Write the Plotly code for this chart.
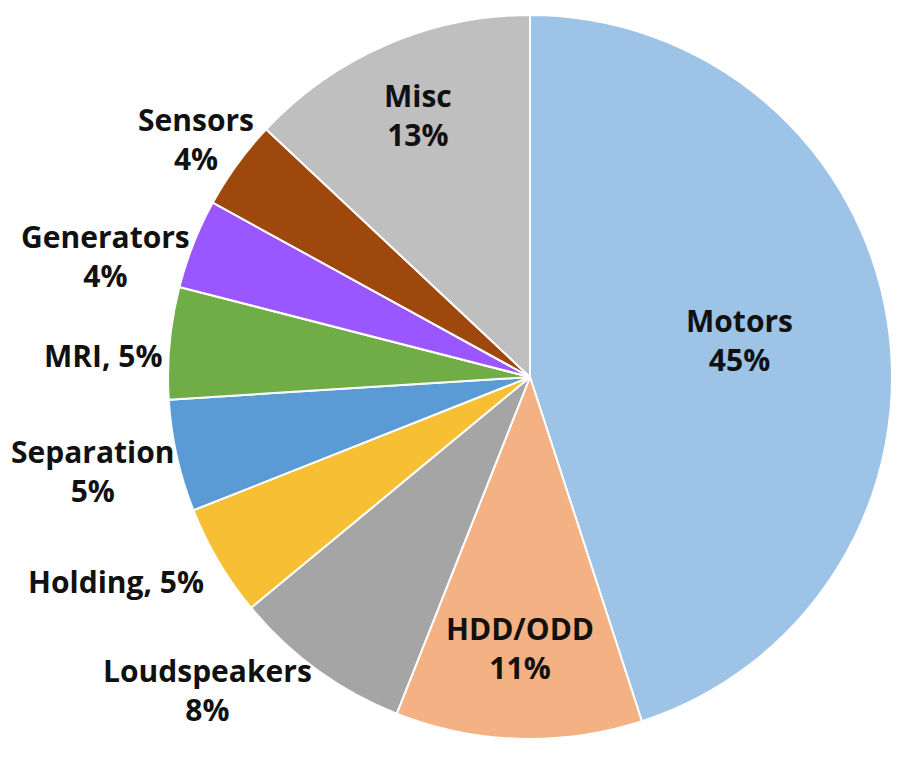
import plotly.graph_objects as go

categories = ["Motors", "HDD/ODD", "Loudspeakers", "Holding", "Separation",
              "MRI", "Generators", "Sensors", "Misc"]
values = [45, 11, 8, 5, 5, 5, 4, 4, 13]
label_texts = ["Motors<br>45%", "HDD/ODD<br>11%", "Loudspeakers<br>8%", "Holding, 5%",
               "Separation<br>5%", "MRI, 5%", "Generators<br>4%", "Sensors<br>4%", "Misc<br>13%"]
colors = ["#9DC3E6", "#F4B183", "#A5A5A5", "#F7C034", "#5B9BD5",
          "#70AD47", "#9B57FF", "#9E480E", "#BFBFBF"]

W, H = 905, 763
OFF = 8  # page body offset
cx, cy, r = 530 - OFF, 377 - OFF, 362

# label centres (page pixels) for the data labels
label_xy = [(739, 340), (520, 648), (207, 690), (116, 581), (93, 471),
            (103, 355), (105, 256), (196, 139), (418, 115)]

font = dict(family="Open Sans", size=30, color="#111111", weight="bold")

fig = go.Figure(go.Pie(
    labels=categories,
    values=values,
    textinfo="none",
    sort=False,
    direction="clockwise",
    rotation=0,
    marker=dict(colors=colors, line=dict(color="white", width=2)),
    domain=dict(x=[(cx - r) / W, (cx + r) / W],
                y=[(H - cy - r) / H, (H - cy + r) / H]),
    showlegend=False,
    automargin=False,
    hovertemplate="%{label}: %{value}%<extra></extra>",
))

for txt, (px, py) in zip(label_texts, label_xy):
    fig.add_annotation(
        text=txt, xref="paper", yref="paper",
        x=(px - OFF) / W, y=1 - (py - OFF) / H,
        xanchor="center", yanchor="middle",
        showarrow=False, font=font, align="center",
    )

fig.update_layout(
    width=W, height=H,
    margin=dict(l=0, r=0, t=0, b=0),
    paper_bgcolor="white",
    plot_bgcolor="white",
)

fig.write_html("out.html")
